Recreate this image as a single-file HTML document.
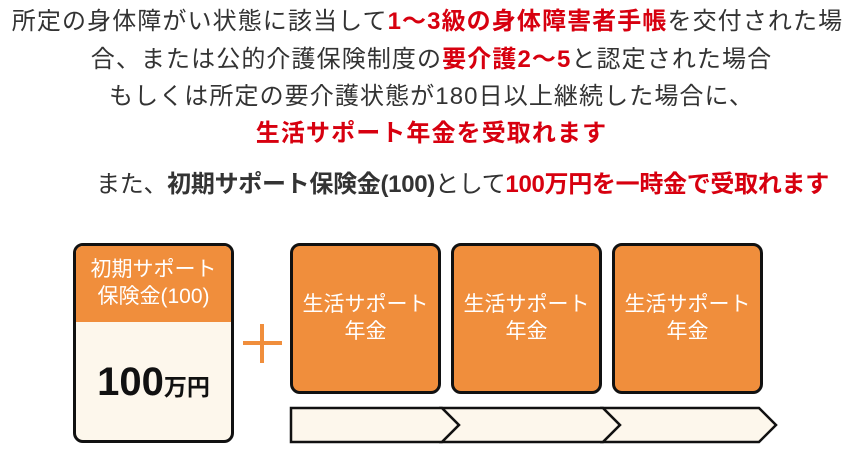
<!DOCTYPE html>
<html><head><meta charset="utf-8"><style>
body{margin:0;width:863px;height:471px;background:#fff;position:relative;overflow:hidden;font-family:"Liberation Sans","Noto Sans CJK JP",sans-serif;}
.l{position:absolute;left:0;width:863px;text-align:center;font-size:24px;letter-spacing:1.1px;color:#333;white-space:nowrap;line-height:30px;}
.r{color:#d7000f;font-weight:bold;}
.b{font-weight:bold;}
.box{position:absolute;box-sizing:border-box;border:3px solid #111;border-radius:10px;background:#f08e3c;color:#fff;font-size:21px;text-align:center;line-height:27px;}
</style></head><body>
<div class="l" style="top:7px;left:-4px">所定の身体障がい状態に該当して<span class="r">1～3級の身体障害者手帳</span>を交付された場</div>
<div class="l" style="top:45px">合、または公的介護保険制度の<span class="r">要介護2～5</span>と認定された場合</div>
<div class="l" style="top:82px">もしくは所定の要介護状態が180日以上継続した場合に、</div>
<div class="l" style="top:119px"><span class="r">生活サポート年金を受取れます</span></div>
<div class="l" style="top:170px;left:31px;letter-spacing:-0.3px">また、<span class="b">初期サポート保険金(100)</span>として<span class="r">100万円を一時金で受取れます</span></div>

<div class="box" style="left:73px;top:243px;width:161px;height:200px;background:#fdf7ec;overflow:hidden;">
  <div style="background:#f08e3c;height:76px;padding-top:10px;box-sizing:border-box;">初期サポート<br>保険金(100)</div>
  <div style="color:#111;font-weight:bold;font-size:40px;margin-top:38px;line-height:44px;">100<span style="font-size:23px">万円</span></div>
</div>
<div style="position:absolute;left:243px;top:341px;width:39px;height:4px;background:#f08e3c"></div>
<div style="position:absolute;left:260px;top:324px;width:4px;height:39px;background:#f08e3c"></div>

<div class="box" style="left:290px;top:243px;width:151px;height:151px;padding-top:45px;">生活サポート<br>年金</div>
<div class="box" style="left:451px;top:243px;width:151px;height:151px;padding-top:45px;">生活サポート<br>年金</div>
<div class="box" style="left:612px;top:243px;width:151px;height:151px;padding-top:45px;">生活サポート<br>年金</div>

<svg style="position:absolute;left:0;top:0" width="863" height="471">
<g fill="#fdf7ec" stroke="#111" stroke-width="2.5" stroke-linejoin="miter">
<polygon points="291,408 442,408 459,425 442,442 291,442"/>
<polygon points="442,408 603,408 620,425 603,442 442,442 459,425"/>
<polygon points="603,408 759,408 776,425 759,442 603,442 620,425"/>
</g></svg>
</body></html>
